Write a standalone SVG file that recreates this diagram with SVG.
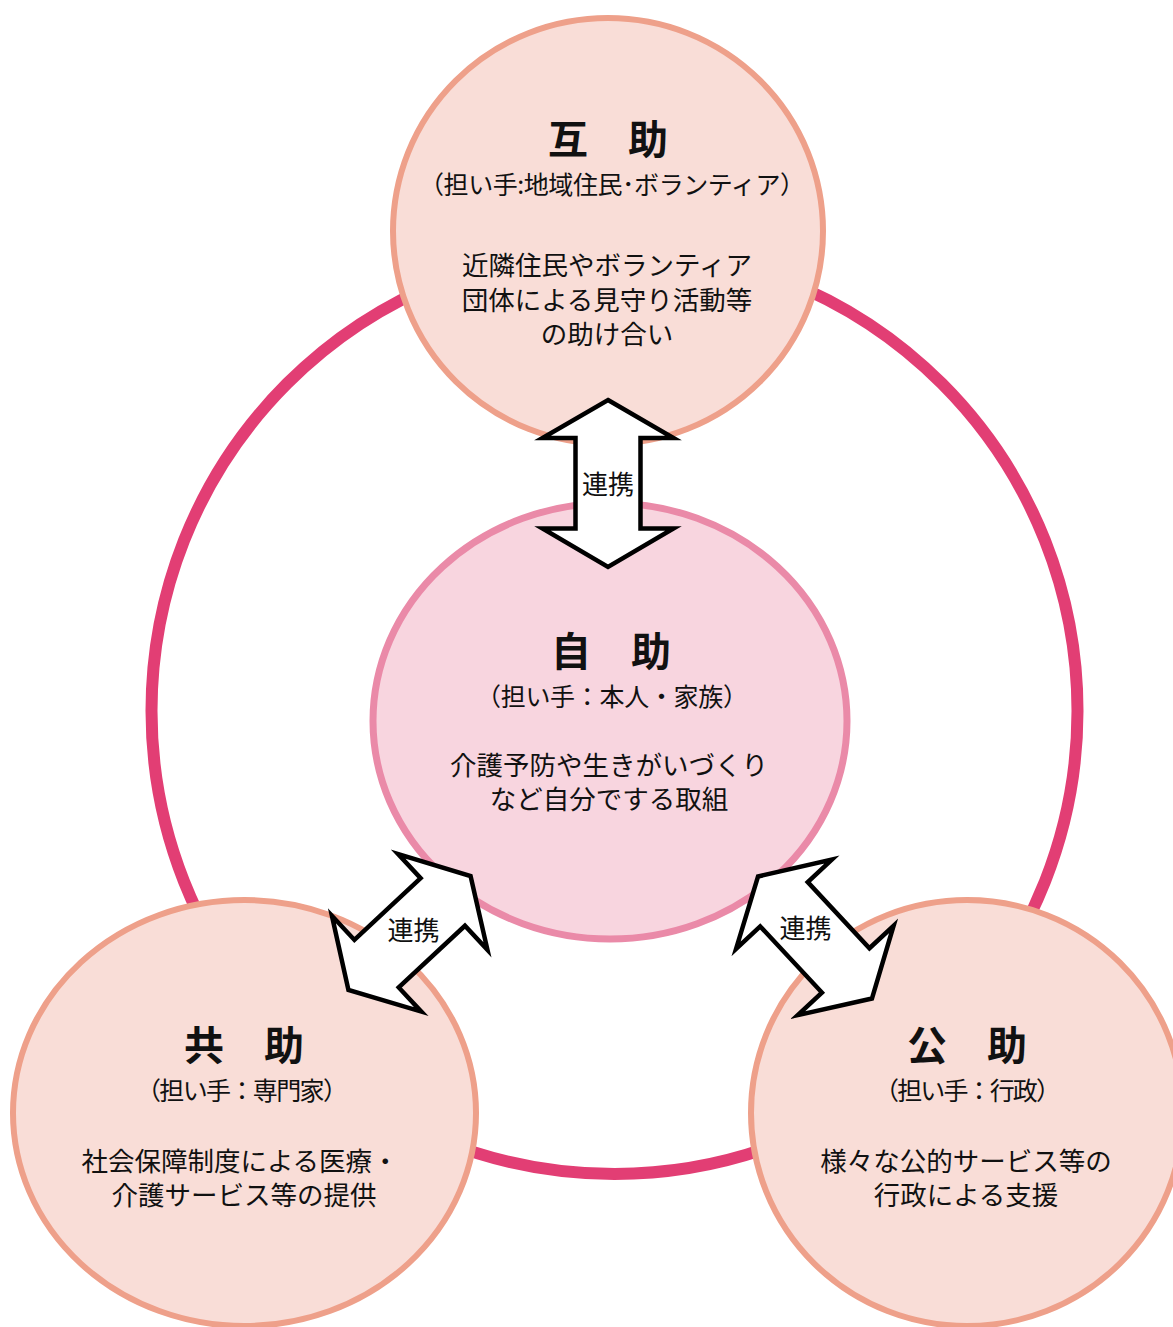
<svg xmlns="http://www.w3.org/2000/svg" width="1173" height="1327" viewBox="0 0 1173 1327">
<style>
text{font-family:"Noto Sans CJK JP","Noto Sans CJK SC",sans-serif;fill:#111;text-anchor:middle}
.t{font-size:40px;font-weight:700}
.s{font-size:25px}
.b{font-size:26.5px}
.l{font-size:26px}
.peer{fill:#f9ddd7;stroke:#eea08a;stroke-width:6}
.arrow{fill:#fff;stroke:#000;stroke-width:4.5;stroke-linejoin:miter}
</style>
<defs>
<path id="dbl" d="M0,-83.5 L65.5,-45.5 L32.5,-45.5 L32.5,45 L65.5,45 L0,83.5 L-65.5,45 L-32.5,45 L-32.5,-45.5 L-65.5,-45.5 Z"/>
</defs>
<rect width="1173" height="1327" fill="#fff"/>
<circle id="ring" cx="614.5" cy="711" r="463" fill="none" stroke="#e23e74" stroke-width="12"/>
<g id="gojo">
<ellipse class="peer" cx="608" cy="231" rx="215" ry="213"/>
<text class="t" x="608" y="154">互　助</text>
<text class="s" x="612" y="194" textLength="386" lengthAdjust="spacing">（担い手:地域住民･ボランティア）</text>
<text class="b" x="607" y="275">近隣住民やボランティア</text>
<text class="b" x="607" y="310">団体による見守り活動等</text>
<text class="b" x="607" y="344">の助け合い</text>
</g>
<g id="jijo">
<ellipse cx="610" cy="721" rx="237" ry="218" fill="#f8d5df" stroke="#ea8aa8" stroke-width="7"/>
<text class="t" x="611" y="666">自　助</text>
<text class="s" x="612" y="706" textLength="272" lengthAdjust="spacing">（担い手：本人・家族）</text>
<text class="b" x="609" y="775">介護予防や生きがいづくり</text>
<text class="b" x="609" y="809">など自分でする取組</text>
</g>
<g id="kyojo">
<ellipse class="peer" cx="244.5" cy="1113" rx="231.5" ry="213"/>
<text class="t" x="244" y="1060">共　助</text>
<text class="s" x="242" y="1100" textLength="212" lengthAdjust="spacing">（担い手：専門家）</text>
<text class="b" x="240" y="1171">社会保障制度による医療・</text>
<text class="b" x="244" y="1205">介護サービス等の提供</text>
</g>
<g id="kojo">
<ellipse class="peer" cx="967" cy="1113" rx="216" ry="213"/>
<text class="t" x="967" y="1060">公　助</text>
<text class="s" x="967.5" y="1100" textLength="187" lengthAdjust="spacing">（担い手：行政）</text>
<text class="b" x="966" y="1171">様々な公的サービス等の</text>
<text class="b" x="966" y="1205">行政による支援</text>
</g>
<g id="connectors">
<use href="#dbl" class="arrow" transform="translate(608,483.5)"/>
<use href="#dbl" class="arrow" transform="translate(409.5,933) rotate(47)"/>
<use href="#dbl" class="arrow" transform="translate(815,937.5) rotate(-43)"/>
<text class="l" x="608" y="494">連携</text>
<text class="l" x="413.5" y="940">連携</text>
<text class="l" x="805.5" y="938">連携</text>
</g>
</svg>
